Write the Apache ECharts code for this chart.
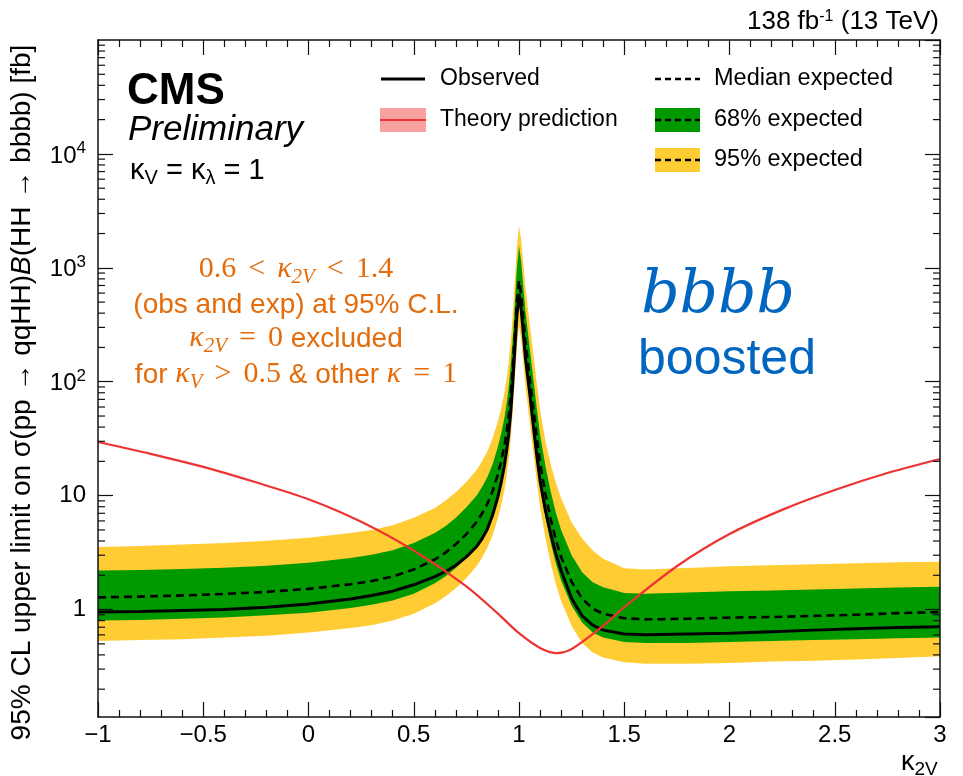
<!DOCTYPE html>
<html><head><meta charset="utf-8">
<script src="https://cdn.jsdelivr.net/npm/echarts@6/dist/echarts.min.js"></script>
<style>html,body{margin:0;padding:0;background:#fff}#c{width:963px;height:776px}</style>
</head><body><div id="c"></div>
<script>
// ---- data ----
const kappa2V = [-1,-0.8,-0.6,-0.4,-0.2,0,0.2,0.3,0.4,0.5,0.6,0.65,0.7,0.75,0.8,0.825,0.85,0.875,0.9,0.915,0.93,0.94,0.95,0.96,0.97,0.98,0.99,1.0,1.01,1.02,1.03,1.04,1.05,1.06,1.07,1.085,1.1,1.125,1.15,1.175,1.2,1.25,1.3,1.35,1.4,1.5,1.6,1.8,2.0,2.2,2.4,2.6,2.8,3.0];
const observed = [0.95,0.96,0.98,1.0,1.05,1.12,1.24,1.33,1.45,1.65,1.95,2.15,2.45,2.9,3.6,4.2,5.1,6.8,9.8,13,18,24,33,52,95,190,380,590,440,270,165,115,82,56,38,22,13.5,7.5,4.7,3.1,2.2,1.25,0.88,0.73,0.66,0.61,0.60,0.61,0.62,0.64,0.66,0.68,0.695,0.705];
const medianExp = [1.28,1.30,1.33,1.37,1.43,1.52,1.67,1.78,1.95,2.25,2.75,3.15,3.75,4.6,5.9,7,8.5,11,15.5,20,27,35,48,75,130,260,510,770,590,370,230,160,112,78,55,32,19.5,10.5,6.3,4.1,2.9,1.75,1.25,1.02,0.92,0.84,0.82,0.83,0.85,0.86,0.88,0.9,0.93,0.95];
const up95 = [3.55,3.62,3.72,3.85,4.02,4.28,4.7,5.0,5.5,6.4,7.8,9.0,10.7,13.2,17,20,24.5,32,45,58,79,103,142,222,385,775,1530,2330,1780,1110,690,480,335,233,164,95,57,30.5,19,13,9.5,5.8,4.2,3.3,2.8,2.3,2.25,2.32,2.4,2.45,2.5,2.55,2.6,2.63];
const up68 = [2.2,2.23,2.27,2.33,2.43,2.58,2.84,3.03,3.32,3.85,4.7,5.4,6.4,7.9,10.1,12,14.6,19,27,35,47.5,62,85,135,235,475,1000,1560,1150,700,430,295,205,142,99,57,34.5,18.5,11,7.1,5.0,3.0,2.13,1.74,1.57,1.4,1.38,1.41,1.45,1.47,1.5,1.53,1.56,1.59];
const lo68 = [0.80,0.81,0.83,0.85,0.89,0.94,1.03,1.1,1.2,1.38,1.7,1.95,2.32,2.85,3.65,4.35,5.25,6.8,9.6,12.4,16.7,21.7,29.8,46.5,80,160,315,477,365,230,143,99,69,48,34,19.8,12.1,6.5,3.9,2.55,1.8,1.08,0.77,0.63,0.57,0.52,0.51,0.51,0.52,0.53,0.54,0.55,0.56,0.57];
const lo95 = [0.53,0.54,0.55,0.57,0.59,0.63,0.69,0.73,0.8,0.92,1.13,1.3,1.54,1.89,2.42,2.87,3.5,4.5,6.4,8.2,11.1,14.4,19.7,30.8,53,106,208,310,240,152,94,66,46,32,22.5,13.1,8.0,4.3,2.58,1.68,1.19,0.72,0.51,0.42,0.38,0.345,0.335,0.335,0.34,0.35,0.355,0.365,0.375,0.39];
const theoryK = [-1,-0.75,-0.5,-0.25,0,0.25,0.5,0.75,0.9,1.0,1.1,1.18,1.25,1.4,1.5,1.75,2.0,2.25,2.5,2.75,3.0];
const theory = [29.6,23.3,17.9,13.1,9.3,5.9,3.3,1.6,0.92,0.62,0.46,0.415,0.45,0.72,1.05,2.4,4.6,7.5,11.2,15.8,21.0];
const xTickValues = [-1,-0.5,0,0.5,1,1.5,2,2.5,3];
const yDecades = [1,10,100,1000,10000];

const xMin = -1, xMax = 3, yMin = 0.114, yMax = 1e5;
const FONT = 'Liberation Sans';
const MATH = 'Liberation Serif';
const C_GREEN = '#009A00', C_YELLOW = '#FFCC33', C_RED = '#EE3333', C_PINK = '#F7A1A1';
const C_ORANGE = '#E46C0A', C_BLUE = '#0066C0';

const yMinorTicks = [];
for (let d = -1; d <= 4; d++) for (let k = 2; k <= 9; k++) {
  const v = k * Math.pow(10, d);
  if (v > yMin && v < yMax) yMinorTicks.push(v);
}

function pairs(xs, ys){ return xs.map((x,i)=>[x, ys[i]]); }

function band(name, upper, lower, color, z){
  return {
    type:'custom', name, silent:true, z, clip:true,
    data:[[kappa2V[0], upper[0]]],
    renderItem(params, api){
      const pts = [];
      for (let i=0;i<kappa2V.length;i++) pts.push(api.coord([kappa2V[i], upper[i]]));
      for (let i=kappa2V.length-1;i>=0;i--) pts.push(api.coord([kappa2V[i], lower[i]]));
      return {type:'polygon', shape:{points:pts}, style:{fill:color}};
    }
  };
}

const orangeRich = {
  m:{fontFamily:MATH, fontSize:30, fill:C_ORANGE, verticalAlign:'top'},
  r:{fontFamily:MATH, fontSize:30, fill:C_ORANGE, verticalAlign:'top', padding:[0,12,0,12]},
  k:{fontFamily:MATH, fontStyle:'italic', fontSize:30, fill:C_ORANGE, verticalAlign:'top'},
  s:{fontFamily:MATH, fontStyle:'italic', fontSize:21, fill:C_ORANGE, verticalAlign:'top', padding:[12,0,0,0]},
  t:{fontFamily:FONT, fontSize:28, fill:C_ORANGE, verticalAlign:'top', padding:[2,0,0,0]}
};

const chart = echarts.init(document.getElementById('c'), null, {renderer:'canvas'});
const AX = {color:'#111', width:1.5};
const TK = {color:'#111', width:1.2};
chart.setOption({
  animation:false,
  backgroundColor:'#fff',
  grid:{left:98, right:23, top:40, bottom:59, containLabel:false, outerBoundsMode:'none'},
  xAxis:[{
    type:'value', min:xMin, max:xMax, interval:0.5, position:'bottom', z:10,
    axisLine:{show:true, onZero:false, lineStyle:AX},
    axisTick:{show:true, inside:true, length:15, lineStyle:TK},
    minorTick:{show:true, splitNumber:5, length:7, lineStyle:TK},
    splitLine:{show:false},
    axisLabel:{show:true, fontFamily:FONT, fontSize:24, color:'#000', margin:6,
      formatter:v=> xTickValues.includes(v) ? String(v).replace('-', '\u2212') : ''}
  },{
    type:'value', min:xMin, max:xMax, interval:0.5, position:'top', z:10,
    axisLine:{show:true, onZero:false, lineStyle:AX},
    axisTick:{show:true, inside:true, length:15, lineStyle:TK},
    minorTick:{show:true, splitNumber:5, length:7, lineStyle:TK},
    splitLine:{show:false}, axisLabel:{show:false}
  }],
  yAxis:[{
    type:'log', logBase:10, min:yMin, max:yMax, position:'left', z:10,
    axisLine:{show:true, onZero:false, lineStyle:AX},
    axisTick:{show:true, inside:true, length:15, lineStyle:TK},
    splitLine:{show:false},
    axisLabel:{show:true, showMinLabel:false, showMaxLabel:false, margin:12,
      fontFamily:FONT, fontSize:24, color:'#000',
      formatter:v=>{
        const e = Math.round(Math.log10(v));
        if (!yDecades.includes(Math.pow(10,e)) || Math.abs(v-Math.pow(10,e))>1e-6*v) return '';
        if (e===0) return '1';
        if (e===1) return '10';
        return '{b|10}{p|'+e+'}';
      },
      rich:{b:{fontFamily:FONT, fontSize:24, color:'#000', verticalAlign:'bottom'},
            p:{fontFamily:FONT, fontSize:17, color:'#000', verticalAlign:'bottom', padding:[0,0,11,0]}}},
    name:'95% CL upper limit on \u03C3(pp \u2192 qqHH){i|B}(HH \u2192 bbbb) [fb]',
    nameLocation:'middle', nameGap:62, nameRotate:90,
    nameTextStyle:{fontFamily:FONT, fontSize:28, color:'#000', padding:[0,28,0,0],
      rich:{i:{fontFamily:FONT, fontSize:28, fontStyle:'italic', color:'#000'}}}
  },{
    type:'log', logBase:10, min:yMin, max:yMax, position:'right', z:10,
    axisLine:{show:true, onZero:false, lineStyle:AX},
    axisTick:{show:true, inside:true, length:15, lineStyle:TK},
    splitLine:{show:false}, axisLabel:{show:false}
  }],
  series:[
    band('95% expected', up95, lo95, C_YELLOW, 1),
    band('68% expected', up68, lo68, C_GREEN, 2),
    {type:'line', name:'Median expected', data:pairs(kappa2V, medianExp), showSymbol:false, z:4,
     lineStyle:{color:'#000', width:2.6, type:[8,5]}},
    {type:'line', name:'Observed', data:pairs(kappa2V, observed), showSymbol:false, z:5,
     lineStyle:{color:'#000', width:3}},
    {type:'line', name:'Theory prediction', data:pairs(theoryK, theory), showSymbol:false, smooth:0.3, z:6,
     lineStyle:{color:C_RED, width:2.2}},
    {type:'custom', name:'yMinorTicks', silent:true, z:20,
     data:yMinorTicks.map(v=>[xMin, v]),
     renderItem(params, api){
       const v = api.value(1);
       const pL = api.coord([xMin, v]), pR = api.coord([xMax, v]);
       const st = {stroke:'#111', lineWidth:1.2};
       return {type:'group', children:[
         {type:'line', shape:{x1:pL[0], y1:pL[1], x2:pL[0]+7, y2:pL[1]}, style:st},
         {type:'line', shape:{x1:pR[0]-7, y1:pR[1], x2:pR[0], y2:pR[1]}, style:st}
       ]};
     }}
  ],
  graphic:[
    {type:'text', x:901, y:749, style:{text:'{k|\u03BA}{s|2V}', align:'left', verticalAlign:'top',
      rich:{k:{fontFamily:FONT, fontSize:27, fill:'#000', verticalAlign:'top'},
            s:{fontFamily:FONT, fontSize:19, fill:'#000', verticalAlign:'top', padding:[11,0,0,0]}}}},
    {type:'text', x:939, y:22, style:{text:'{n|138 fb}{p|-1}{n| (13 TeV)}', align:'right', verticalAlign:'middle',
      rich:{n:{fontFamily:FONT, fontSize:26, fill:'#000', verticalAlign:'bottom'},
            p:{fontFamily:FONT, fontSize:16, fill:'#000', verticalAlign:'bottom', padding:[0,0,10,0]}}}},
    {type:'text', x:127, y:92, style:{text:'CMS', fontFamily:FONT, fontSize:44, fontWeight:'bold', fill:'#000', align:'left', verticalAlign:'middle'}},
    {type:'text', x:128, y:130, style:{text:'Preliminary', fontFamily:FONT, fontSize:35, fontStyle:'italic', fill:'#000', align:'left', verticalAlign:'middle'}},
    {type:'text', x:130, y:172, style:{text:'{n|\u03BA}{s|V}{n| = \u03BA}{s|\u03BB}{n| = 1}', align:'left', verticalAlign:'middle',
      rich:{n:{fontFamily:FONT, fontSize:29, fill:'#000', verticalAlign:'top'},
            s:{fontFamily:FONT, fontSize:20, fill:'#000', verticalAlign:'top', padding:[12,0,0,0]}}}},
    {type:'line', shape:{x1:381, y1:79, x2:425, y2:79}, style:{stroke:'#000', lineWidth:3}},
    {type:'text', x:440, y:79, style:{text:'Observed', fontFamily:FONT, fontSize:23, fill:'#000', align:'left', verticalAlign:'middle'}},
    {type:'rect', shape:{x:380, y:108, width:46, height:24}, style:{fill:C_PINK}},
    {type:'line', shape:{x1:380, y1:120, x2:426, y2:120}, style:{stroke:C_RED, lineWidth:2.2}},
    {type:'text', x:440, y:120, style:{text:'Theory prediction', fontFamily:FONT, fontSize:23, fill:'#000', align:'left', verticalAlign:'middle'}},
    {type:'line', shape:{x1:655, y1:79, x2:700, y2:79}, style:{stroke:'#000', lineWidth:2.6, lineDash:[6,4]}},
    {type:'text', x:714, y:79, style:{text:'Median expected', fontFamily:FONT, fontSize:23.5, fill:'#000', align:'left', verticalAlign:'middle'}},
    {type:'rect', shape:{x:655, y:108, width:45, height:24}, style:{fill:C_GREEN}},
    {type:'line', shape:{x1:655, y1:120, x2:700, y2:120}, style:{stroke:'#000', lineWidth:2.6, lineDash:[6,4]}},
    {type:'text', x:714, y:120, style:{text:'68% expected', fontFamily:FONT, fontSize:23.5, fill:'#000', align:'left', verticalAlign:'middle'}},
    {type:'rect', shape:{x:655, y:148, width:45, height:24}, style:{fill:C_YELLOW}},
    {type:'line', shape:{x1:655, y1:160, x2:700, y2:160}, style:{stroke:'#000', lineWidth:2.6, lineDash:[6,4]}},
    {type:'text', x:714, y:160, style:{text:'95% expected', fontFamily:FONT, fontSize:23.5, fill:'#000', align:'left', verticalAlign:'middle'}},
    {type:'text', x:296, y:271, style:{text:'{m|0.6}{r|<}{k|\u03BA}{s|2V}{r|<}{m|1.4}', align:'center', verticalAlign:'middle', rich:orangeRich}},
    {type:'text', x:296, y:305, style:{text:'(obs and exp) at 95% C.L.', fontFamily:FONT, fontSize:28, fill:C_ORANGE, align:'center', verticalAlign:'middle'}},
    {type:'text', x:296, y:340, style:{text:'{k|\u03BA}{s|2V}{r|=}{m|0}{t| excluded}', align:'center', verticalAlign:'middle', rich:orangeRich}},
    {type:'text', x:296, y:376, style:{text:'{t|for }{k|\u03BA}{s|V}{r|>}{m|0.5}{t| & other }{k|\u03BA}{r|=}{m|1}', align:'center', verticalAlign:'middle', rich:orangeRich}},
    {type:'text', x:718, y:296, style:{text:'bbbb', fontFamily:'DejaVu Serif', fontStyle:'italic', fontSize:60, fill:C_BLUE, align:'center', verticalAlign:'middle'}},
    {type:'text', x:727, y:360, style:{text:'boosted', fontFamily:FONT, fontSize:50, fill:C_BLUE, align:'center', verticalAlign:'middle'}}
  ]
});
</script></body></html>
